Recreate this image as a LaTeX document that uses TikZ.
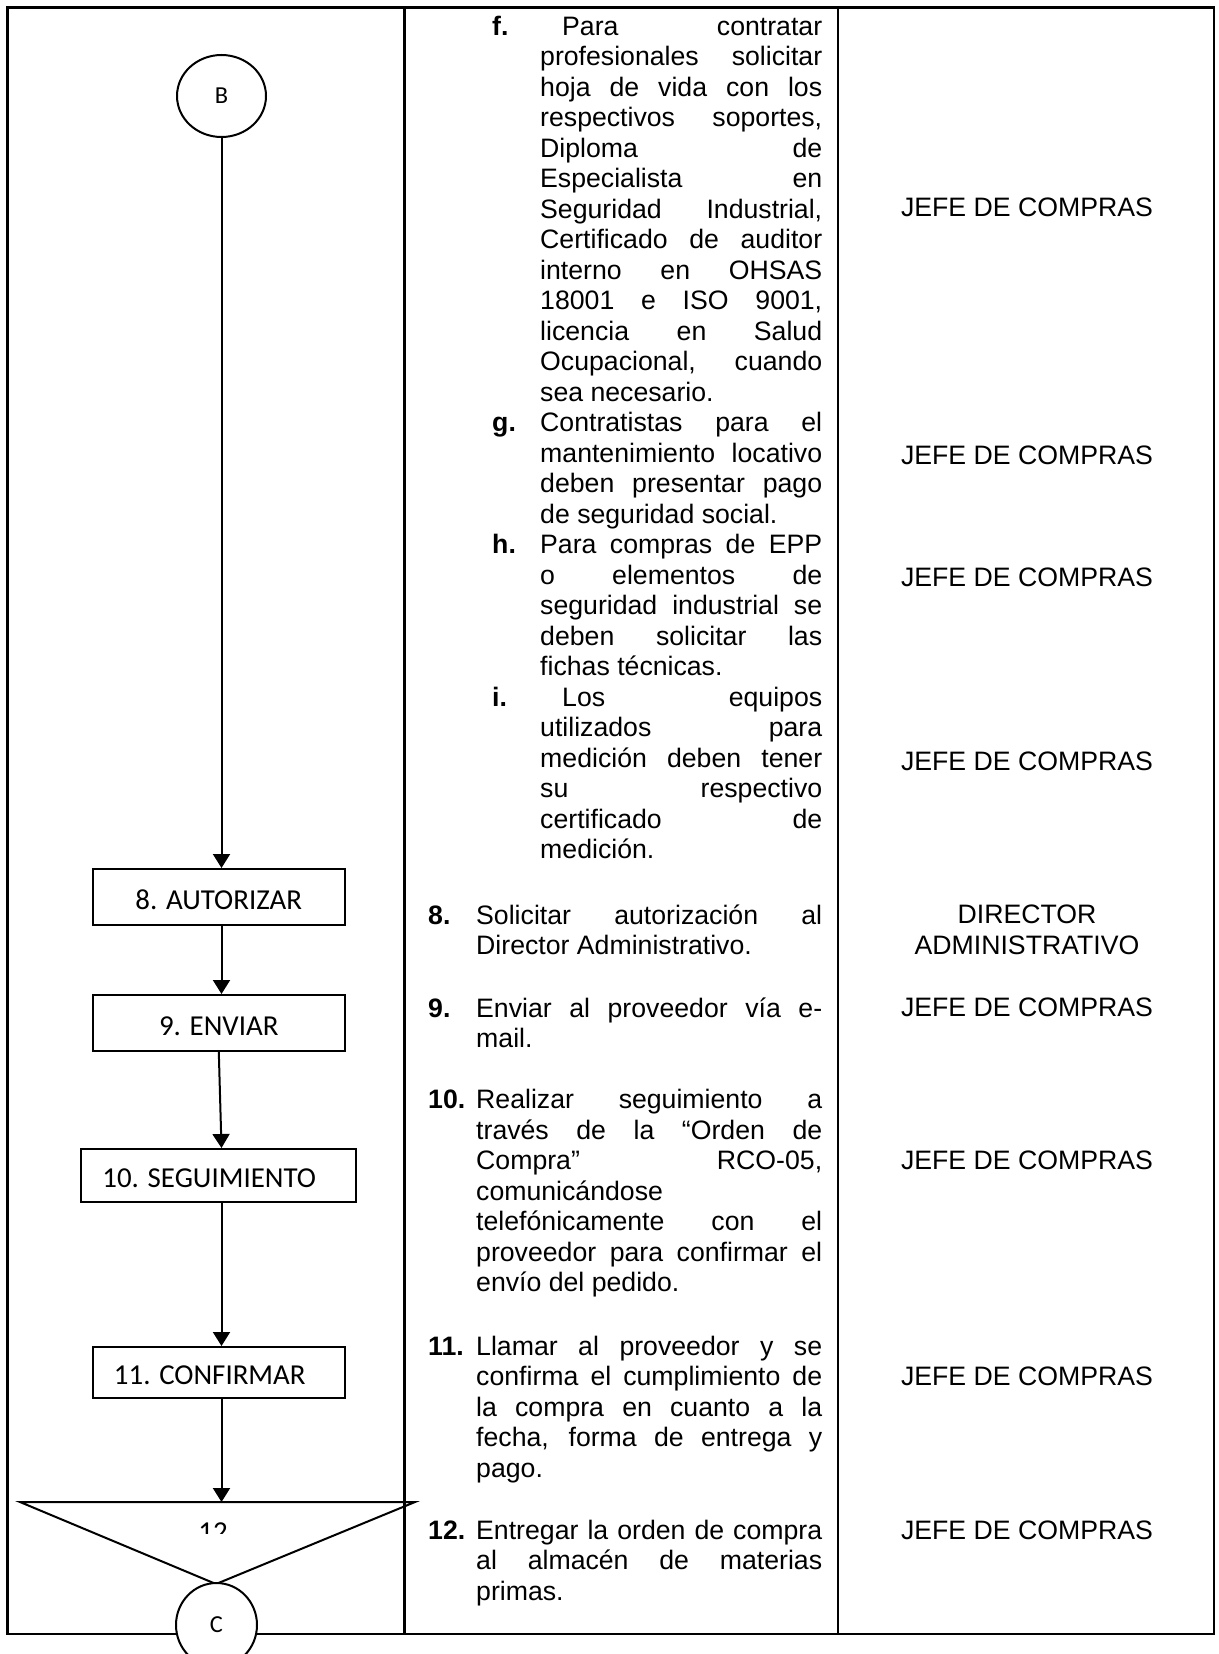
\documentclass[tikz,border=0pt]{standalone}
\usepackage{fontspec}
\setmainfont{Liberation Sans}
\newfontfamily\calibrifont{Carlito}
\usetikzlibrary{arrows.meta,shapes.geometric}

% body text: 12pt Arial-like type, single spacing
\newcommand{\bodyfont}{\fontsize{26.67pt}{30.5pt}\selectfont}
% justified lines broken by hand, no hyphenation
\newcommand{\parsetup}{\parindent=0pt\tolerance=10000\hbadness=10000\hyphenpenalty=10000\exhyphenpenalty=10000\relax}
% bold item label hanging to the left of the paragraph
\newcommand{\itemlab}[1]{\leavevmode\strut\llap{\makebox[48pt][l]{\bfseries #1}}}

\begin{document}
\begin{tikzpicture}[x=1pt,y=-1pt,
  frame/.style={line width=2.4pt},
  flow/.style={line width=2pt},
  conn/.style={flow,-{Triangle[length=14pt,width=17pt]}},
  stepbox/.style={draw,rectangle,line width=2pt,inner sep=0pt,
    font=\calibrifont\fontsize{28.9pt}{34pt}\selectfont,
    text height=24.6pt,text depth=0pt},
  onpage/.style={draw,ellipse,line width=2pt,inner sep=0pt,fill=white,
    minimum width=89pt,minimum height=82pt,
    font=\calibrifont\fontsize{24.4pt}{29pt}\selectfont},
  desc/.style={anchor=north west,inner sep=0pt,align=justify,font=\bodyfont,
    execute at begin node=\parsetup},
  role/.style={anchor=base,inner sep=0pt,font=\bodyfont}
]
\useasboundingbox (0,0) rectangle (1218,1654);

% table frame and column rules
\draw[frame] (7.5,7.5) rectangle (1214,1634);
\draw[frame] (404.5,7.5) -- (404.5,1634);
\draw[frame] (838,7.5) -- (838,1634);

% flow chart column
\node[onpage] (B) at (221.5,96) {B};
\node[stepbox,minimum width=252.3pt,minimum height=56pt] (b8) at (218.8,897) {8. AUTORIZAR};
\node[stepbox,minimum width=252.3pt,minimum height=56pt] (b9) at (218.8,1023) {9. ENVIAR};
\node[stepbox,minimum width=275pt,minimum height=53pt] (b10) at (218.2,1175.5) {10. SEGUIMIENTO\hspace*{18pt}};
\node[stepbox,minimum width=252.3pt,minimum height=51pt] (b11) at (218.8,1372.5) {11. CONFIRMAR\hspace*{18pt}};

% inverted triangle for step 12
\coordinate (tL) at (20,1502);
\coordinate (tR) at (415,1502);
\coordinate (tA) at (216,1584);
\draw[flow,line join=miter] (tL) -- (tR) -- (tA) -- cycle;
\begin{scope}
  \clip (20,1502) rectangle (415,1533.3);
  \node[anchor=base,inner sep=0pt,font=\calibrifont\fontsize{28.9pt}{34pt}\selectfont] (t12) at (213,1541.6) {12};
\end{scope}
\node[onpage,minimum width=81pt,minimum height=84pt] (C) at (216.5,1625) {C};

% connectors
\draw[conn] (B.south) -- (B.south |- b8.north);
\draw[conn] (b8.south -| B.south) -- (b9.north -| B.south);
\draw[conn] (b9.south) -- (b10.north -| B.south);
\draw[conn] (b10.south -| B.south) -- (b11.north -| B.south);
\draw[conn] (b11.south -| B.south) -- (tL -| B.south);

% description column
\node[desc,text width=282pt] (dfi) at (540,13.65) {%
\itemlab{f.}\hspace*{22pt}Para contratar\linebreak
profesionales solicitar\linebreak
hoja de vida con los\linebreak
respectivos soportes,\linebreak
Diploma de\linebreak
Especialista en\linebreak
Seguridad Industrial,\linebreak
Certificado de auditor\linebreak
interno en OHSAS\linebreak
18001 e ISO 9001,\linebreak
licencia en Salud\linebreak
Ocupacional, cuando\linebreak
sea necesario.\par
\itemlab{g.}Contratistas para el\linebreak
mantenimiento locativo\linebreak
deben presentar pago\linebreak
de seguridad social.\par
\itemlab{h.}Para compras de EPP\linebreak
o elementos de\linebreak
seguridad industrial se\linebreak
deben solicitar las\linebreak
fichas técnicas.\par
\itemlab{i.}\hspace*{22pt}Los equipos\linebreak
utilizados para\linebreak
medición deben tener\linebreak
su respectivo\linebreak
certificado de\linebreak
medición.};

\node[desc,text width=346pt] (d8) at (476,902.65) {%
\itemlab{8.}Solicitar autorización al\linebreak
Director Administrativo.};

\node[desc,text width=346pt] (d9) at (476,995.65) {%
\itemlab{9.}Enviar al proveedor vía e-\linebreak
mail.};

\node[desc,text width=346pt] (d10) at (476,1087) {%
\itemlab{10.}Realizar seguimiento a\linebreak
través de la “Orden de\linebreak
Compra” RCO-05,\linebreak
comunicándose\linebreak
telefónicamente con el\linebreak
proveedor para confirmar el\linebreak
envío del pedido.};

\node[desc,text width=346pt] (d11) at (476,1333.65) {%
\itemlab{11.}Llamar al proveedor y se\linebreak
confirma el cumplimiento de\linebreak
la compra en cuanto a la\linebreak
fecha, forma de entrega y\linebreak
pago.};

\node[desc,text width=346pt] (d12) at (476,1517.65) {%
\itemlab{12.}Entregar la orden de compra\linebreak
al almacén de materias\linebreak
primas.};

% responsible column
\node[role] (r1) at (1027,216.5) {JEFE DE COMPRAS};
\node[role] (r2) at (1027,464.5) {JEFE DE COMPRAS};
\node[role] (r3) at (1027,586.5) {JEFE DE COMPRAS};
\node[role] (r4) at (1027,770.5) {JEFE DE COMPRAS};
\node[anchor=north,inner sep=0pt,font=\bodyfont,text width=330pt,align=center] (r8) at (1027,902.15) {\strut DIRECTOR\\ADMINISTRATIVO};
\node[role] (r9) at (1027,1016) {JEFE DE COMPRAS};
\node[role] (r10) at (1027,1169.5) {JEFE DE COMPRAS};
\node[role] (r11) at (1027,1385) {JEFE DE COMPRAS};
\node[role] (r12) at (1027,1539) {JEFE DE COMPRAS};
\end{tikzpicture}
\end{document}
